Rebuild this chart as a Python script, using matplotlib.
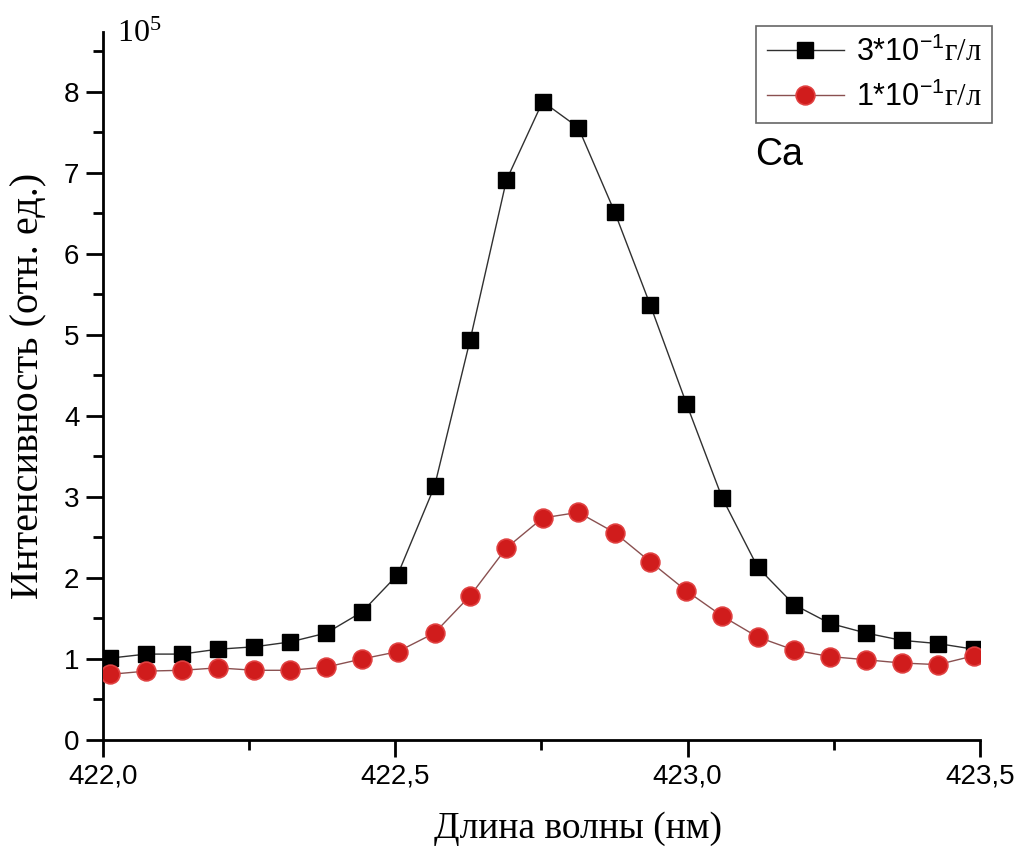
import numpy as np
import matplotlib
matplotlib.use('Agg')
import matplotlib.pyplot as plt
from matplotlib.ticker import MultipleLocator, FuncFormatter

plt.rcParams['font.family'] = ['Liberation Sans', 'DejaVu Sans']
plt.rcParams['mathtext.fontset'] = 'custom'
plt.rcParams['mathtext.rm'] = 'Liberation Serif'
plt.rcParams['mathtext.default'] = 'regular'

# wavelength, nm
wl = [422.012, 422.074, 422.135, 422.196, 422.259, 422.320, 422.382, 422.443,
      422.504, 422.567, 422.628, 422.690, 422.752, 422.813, 422.875, 422.936,
      422.998, 423.059, 423.120, 423.182, 423.243, 423.305, 423.366, 423.428,
      423.490]

# intensity, 10^5 rel. units
i_3 = [1.01, 1.06, 1.06, 1.12, 1.15, 1.21, 1.32, 1.58, 2.04, 3.13, 4.94, 6.91,
       7.88, 7.56, 6.52, 5.37, 4.15, 2.99, 2.13, 1.67, 1.44, 1.32, 1.23, 1.19,
       1.12]
i_1 = [0.81, 0.85, 0.86, 0.89, 0.86, 0.86, 0.90, 1.00, 1.09, 1.32, 1.78, 2.37,
       2.74, 2.81, 2.56, 2.20, 1.84, 1.53, 1.27, 1.11, 1.03, 0.99, 0.95, 0.93,
       1.04]

labels = ['3*10$^{-1}\\mathrm{г/л}$', '1*10$^{-1}\\mathrm{г/л}$']

fig = plt.figure(figsize=(10.24, 8.52), dpi=100)
ax = fig.add_axes([0.1006, 0.1315, 0.8564, 0.831])

ax.plot(wl, i_3, color='#303030', lw=1.0, marker='s', ms=11.5,
        mfc='black', mec='black', label=labels[0], zorder=3)
ax.plot(wl, i_1, color='#8a5050', lw=1.0, marker='o', ms=13.5,
        mfc='#d01c1c', mec='#e04040', mew=1.2, label=labels[1], zorder=3)

ax.set_xlim(422.0, 423.5)
ax.set_ylim(0, 8.74)
ax.xaxis.set_major_locator(MultipleLocator(0.5))
ax.xaxis.set_minor_locator(MultipleLocator(0.25))
ax.yaxis.set_major_locator(MultipleLocator(1))
ax.yaxis.set_minor_locator(MultipleLocator(0.5))
ax.xaxis.set_major_formatter(FuncFormatter(lambda v, p: ('%.1f' % v).replace('.', ',')))

for s in ['top', 'right']:
    ax.spines[s].set_visible(False)
for s in ['left', 'bottom']:
    ax.spines[s].set_linewidth(2)
ax.tick_params(which='major', length=12, width=2, labelsize=20, pad=5)
ax.tick_params(which='minor', length=7, width=2)

ax.set_xlabel('Длина волны (нм)', family='Liberation Serif', fontsize=27)
ax.xaxis.set_label_coords(0.542, -0.101)
ax.set_ylabel('Интенсивность (отн. ед.)', family='Liberation Serif', fontsize=29)
ax.yaxis.set_label_coords(-0.063, 0.5)

fig.text(0.114, 0.96, '10$^{5}$', family='Liberation Serif', fontsize=23,
         va='center')
fig.text(0.737, 0.818, 'Ca', fontsize=27, va='center')

leg = ax.legend(loc='upper right', bbox_to_anchor=(0.969, 0.97),
                bbox_transform=fig.transFigure, fontsize=22, frameon=True,
                fancybox=False, edgecolor='#404040', handlelength=2.5,
                borderpad=0.35, labelspacing=0.45, handletextpad=0.4,
                borderaxespad=0)
leg.get_frame().set_linewidth(1.2)

fig.savefig('out.png', dpi=100, facecolor='white')
